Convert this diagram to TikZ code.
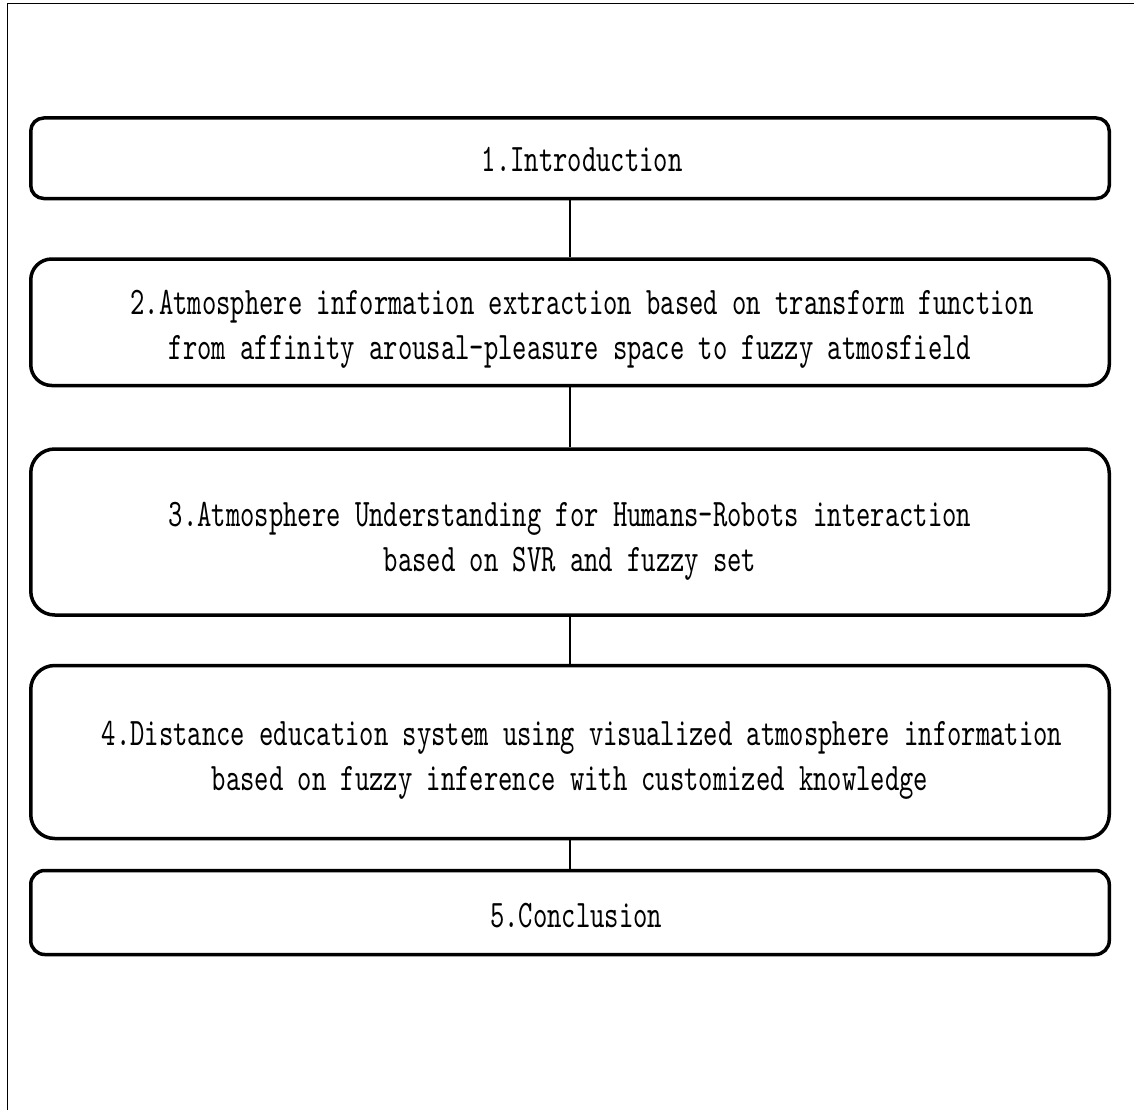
\documentclass[tikz,border=0pt]{standalone}
\usepackage{fontspec}
\newfontfamily\reffont[FakeStretch=0.70]{lmmono10-regular.otf}
\begin{document}
\begin{tikzpicture}[x=1pt,y=-1pt,
  box/.style={draw, line width=3.5pt, minimum width=1078.5pt, inner sep=0pt},
  txt/.style={align=center, inner sep=0pt, font=\reffont\fontsize{39}{45}\selectfont},
  link/.style={line width=2pt}]
\useasboundingbox (0,0) rectangle (1134,1110);
\draw[line width=1.8pt] (7.5,1110) -- (7.5,3.5) -- (1134,3.5);
\node[box, minimum height=80.5pt, rounded corners=13pt] (b1) at (570,158.25) {};
\node[box, minimum height=126.5pt, rounded corners=21pt] (b2) at (570,322.25) {};
\node[box, minimum height=166pt, rounded corners=24pt] (b3) at (570,532) {};
\node[box, minimum height=173pt, rounded corners=24pt] (b4) at (570,752) {};
\node[box, minimum height=84pt, rounded corners=14pt] (b5) at (570,912.5) {};
\node[txt] (t1) at ([xshift=12pt,yshift=-1pt]b1.center) {1.Introduction};
\node[txt] (t2) at ([yshift=-7pt]b2.center)
  {\hspace*{24pt}2.Atmosphere information extraction based on transform function\\from affinity arousal-pleasure space to fuzzy atmosfield};
\node[txt] (t3) at ([yshift=-9pt]b3.center)
  {3.Atmosphere Understanding for Humans-Robots interaction\\based on SVR and fuzzy set};
\node[txt] (t4) at ([yshift=-8pt]b4.center)
  {\hspace*{24pt}4.Distance education system using visualized atmosphere information\\based on fuzzy inference with customized knowledge};
\node[txt] (t5) at ([xshift=6pt,yshift=-3pt]b5.center) {5.Conclusion};
\draw[link] (b1) -- (b2);
\draw[link] (b2) -- (b3);
\draw[link] (b3) -- (b4);
\draw[link] (b4) -- (b5);
\end{tikzpicture}
\end{document}
